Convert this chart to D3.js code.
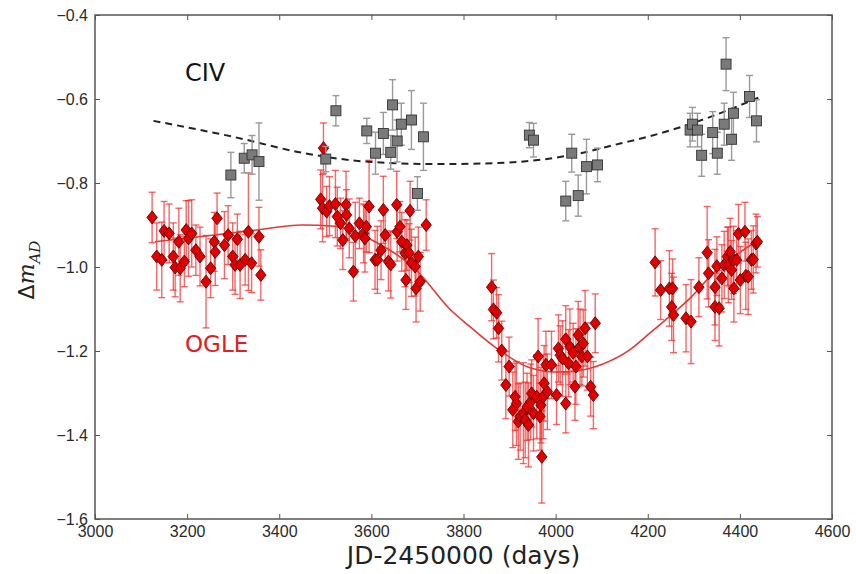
<!DOCTYPE html>
<html>
<head>
<meta charset="utf-8">
<script src="https://cdn.jsdelivr.net/npm/d3@7"></script>
<style>
  html, body { margin: 0; padding: 0; background: #fff; }
  svg { display: block; font-family: "DejaVu Sans", sans-serif; }
</style>
</head>
<body>
<svg id="chart"></svg>
<script>
// OGLE light curve (JD-2450000, mag, error)
const ogleT = [3124,3134,3145,3150,3161,3170,3174,3182,3185,3194,3198,3203,3210,3219,3228,3241,3251,3259,3261,3265,3281,3289,3299,3304,3309,3315,3326,3333,3340,3356,3360,
  3490,3494,3496,3503,3509,3522,3526,3533,3538,3545,3546,3552,3561,3565,3574,3583,3586,3589,3595,3608,3613,3621,3626,3630,3637,3642,3655,3656,3662,3666,3673,3675,3677,3682,3684,3687,3695,3697,3702,3706,3719,
  3861,3865,3872,3876,3883,3892,3899,3907,3912,3915,3919,3923,3930,3934,3938,3941,3946,3948,3952,3959,3962,3966,3968,3970,3973,3975,3979,3982,3991,4002,4006,4010,4015,4022,4022,4028,4031,4038,4042,4044,4049,4053,4057,4060,4064,4069,4076,4082,4086,
  4216,4228,4247,4252,4254,4256,4283,4294,4311,4329,4332,4346,4346,4350,4355,4361,4366,4373,4375,4379,4382,4386,4387,4393,4397,4401,4411,4413,4418,4425,4429,4435,4438];
const ogleM = [-0.882,-0.975,-0.983,-0.914,-0.920,-0.975,-1.001,-0.940,-1.003,-0.987,-0.912,-0.932,-0.920,-0.960,-0.975,-1.035,-1.003,-0.940,-0.964,-0.884,-0.948,-0.924,-0.975,-0.995,-0.934,-0.995,-0.983,-0.916,-0.991,-0.928,-1.019,
  -0.839,-0.860,-0.717,-0.868,-0.855,-0.850,-0.880,-0.896,-0.936,-0.852,-0.876,-0.908,-1.011,-0.926,-0.896,-0.920,-0.932,-0.904,-0.856,-0.983,-0.983,-0.960,-0.864,-0.924,-0.987,-0.994,-0.852,-0.916,-0.904,-0.940,-0.967,-1.031,-0.948,-0.967,-0.866,-0.990,-0.999,-1.051,-0.975,-1.035,-0.900,
  -1.048,-1.101,-1.109,-1.146,-1.199,-1.281,-1.237,-1.340,-1.309,-1.325,-1.368,-1.356,-1.348,-1.364,-1.333,-1.376,-1.321,-1.301,-1.348,-1.309,-1.213,-1.356,-1.329,-1.452,-1.309,-1.277,-1.233,-1.297,-1.233,-1.305,-1.194,-1.210,-1.218,-1.172,-1.325,-1.229,-1.190,-1.204,-1.285,-1.237,-1.162,-1.190,-1.213,-1.182,-1.146,-1.213,-1.285,-1.305,-1.134,
  -0.989,-1.055,-1.051,-1.095,-1.051,-1.114,-1.122,-1.130,-1.048,-0.966,-1.015,-1.048,-1.095,-0.998,-1.098,-1.027,-0.995,-0.975,-0.995,-0.964,-1.007,-0.983,-1.051,-0.983,-0.921,-1.031,-0.916,-1.021,-1.023,-0.983,-0.982,-0.944,-0.940];
const ogleE = [0.06,0.08,0.09,0.07,0.07,0.08,0.07,0.08,0.08,0.06,0.07,0.09,0.08,0.06,0.07,0.11,0.07,0.07,0.08,0.06,0.08,0.07,0.08,0.07,0.06,0.08,0.06,0.14,0.07,0.07,0.06,
  0.07,0.08,0.06,0.06,0.07,0.08,0.07,0.06,0.07,0.08,0.06,0.07,0.07,0.08,0.06,0.07,0.08,0.06,0.11,0.07,0.08,0.07,0.08,0.06,0.07,0.08,0.08,0.07,0.06,0.07,0.08,0.07,0.06,0.07,0.07,0.08,0.07,0.08,0.07,0.07,0.06,
  0.08,0.07,0.06,0.08,0.07,0.08,0.07,0.09,0.08,0.10,0.09,0.08,0.12,0.09,0.08,0.10,0.09,0.08,0.09,0.10,0.09,0.08,0.09,0.11,0.10,0.09,0.08,0.09,0.08,0.07,0.08,0.07,0.09,0.08,0.07,0.08,0.09,0.07,0.08,0.09,0.08,0.09,0.07,0.08,0.09,0.08,0.07,0.08,0.07,
  0.08,0.07,0.09,0.08,0.07,0.09,0.08,0.10,0.07,0.11,0.08,0.09,0.08,0.07,0.09,0.08,0.08,0.07,0.09,0.08,0.07,0.08,0.08,0.07,0.07,0.08,0.07,0.08,0.09,0.07,0.08,0.07,0.06];

// CIV emission line
const civT = [3295,3324,3341,3356,3501,3523,3590,3609,3626,3642,3646,3656,3665,3687,3700,3713,
  3943,3952,4022,4035,4049,4067,4091,4292,4297,4308,4317,4341,4351,4366,4370,4382,4386,4421,4436];
const civM = [-0.781,-0.741,-0.733,-0.749,-0.743,-0.628,-0.676,-0.729,-0.682,-0.727,-0.614,-0.700,-0.660,-0.650,-0.825,-0.690,
  -0.686,-0.698,-0.843,-0.729,-0.830,-0.761,-0.757,-0.674,-0.660,-0.674,-0.734,-0.680,-0.729,-0.660,-0.517,-0.696,-0.634,-0.594,-0.652];
const civE = [0.054,0.035,0.046,0.092,0.03,0.036,0.03,0.05,0.05,0.04,0.06,0.05,0.05,0.07,0.04,0.08,
  0.03,0.04,0.047,0.045,0.049,0.065,0.04,0.04,0.04,0.04,0.05,0.05,0.05,0.05,0.063,0.05,0.05,0.05,0.05];

// fitted curves
const fitRedT = [3130,3250,3350,3450,3520,3600,3700,3770,3814,3870,3944,4000,4031,4100,4160,4205,4250,4292,4342,4400,4442];
const fitRedM = [-0.94,-0.925,-0.912,-0.900,-0.903,-0.935,-1.010,-1.100,-1.142,-1.192,-1.240,-1.250,-1.249,-1.232,-1.198,-1.157,-1.115,-1.074,-1.015,-0.965,-0.935];
const fitCivT = [3127,3300,3450,3600,3750,3900,4050,4140,4200,4330,4440];
const fitCivM = [-0.652,-0.690,-0.728,-0.750,-0.755,-0.751,-0.730,-0.706,-0.690,-0.645,-0.597];

const xTicks = [3000,3200,3400,3600,3800,4000,4200,4400,4600];
const yTicks = [-0.4,-0.6,-0.8,-1.0,-1.2,-1.4,-1.6];

const W = 856, H = 574;
const L = 95, R = 832, T = 15, B = 519;

const svg = d3.select("#chart").attr("width", W).attr("height", H);

const x = d3.scaleLinear().domain([3000, 4600]).range([L, R]);
const y = d3.scaleLinear().domain([-1.6, -0.4]).range([B, T]);

const tickColor = "#555";
function styleAxis(g) {
  g.select(".domain").remove();
  g.selectAll(".tick line").attr("stroke", tickColor).attr("stroke-width", 1);
  g.selectAll(".tick text").attr("fill", "#2a2a2a").style("font-size", "16px");
}

svg.append("g").attr("transform", `translate(${L},0)`)
  .call(d3.axisLeft(y).tickValues(yTicks).tickFormat(d3.format(".1f")).tickSize(-5).tickPadding(7))
  .call(styleAxis);
svg.append("g").attr("transform", `translate(${R},0)`)
  .call(d3.axisRight(y).tickValues(yTicks).tickFormat("").tickSize(-5))
  .call(styleAxis);
svg.append("g").attr("transform", `translate(0,${B})`)
  .call(d3.axisBottom(x).tickValues(xTicks).tickFormat(d3.format("d")).tickSize(-5).tickPadding(7))
  .call(styleAxis);
svg.append("g").attr("transform", `translate(0,${T})`)
  .call(d3.axisTop(x).tickValues(xTicks).tickFormat("").tickSize(-5))
  .call(styleAxis);

const ogle = ogleT.map((t, i) => ({ t, m: ogleM[i], e: ogleE[i] }));
const civ = civT.map((t, i) => ({ t, m: civM[i], e: civE[i] }));

const line = d3.line().x(d => x(d[0])).y(d => y(d[1])).curve(d3.curveMonotoneX);

function errorBars(g, data) {
  g.selectAll("line.v").data(data).join("line").attr("class", "v")
    .attr("x1", d => x(d.t)).attr("x2", d => x(d.t))
    .attr("y1", d => y(d.m - d.e)).attr("y2", d => y(d.m + d.e));
  g.selectAll("line.c1").data(data).join("line").attr("class", "c1")
    .attr("x1", d => x(d.t) - 3.5).attr("x2", d => x(d.t) + 3.5)
    .attr("y1", d => y(d.m - d.e)).attr("y2", d => y(d.m - d.e));
  g.selectAll("line.c2").data(data).join("line").attr("class", "c2")
    .attr("x1", d => x(d.t) - 3.5).attr("x2", d => x(d.t) + 3.5)
    .attr("y1", d => y(d.m + d.e)).attr("y2", d => y(d.m + d.e));
}

// OGLE
errorBars(svg.append("g").attr("stroke", "#ee2a2a").attr("stroke-opacity", 0.7).attr("stroke-width", 1.4), ogle);

svg.append("path")
  .datum(fitRedT.map((t, i) => [t, fitRedM[i]]))
  .attr("d", line)
  .attr("fill", "none").attr("stroke", "#e03a3a").attr("stroke-width", 1.6);

svg.append("g").selectAll("path").data(ogle).join("path")
  .attr("d", "M0,-6.5L5.2,0L0,6.5L-5.2,0Z")
  .attr("transform", d => `translate(${x(d.t)},${y(d.m)})`)
  .attr("fill", "#e00000").attr("stroke", "#600000").attr("stroke-width", 0.9);

// CIV
svg.append("path")
  .datum(fitCivT.map((t, i) => [t, fitCivM[i]]))
  .attr("d", line)
  .attr("fill", "none").attr("stroke", "#222").attr("stroke-width", 2)
  .attr("stroke-dasharray", "7,5");

errorBars(svg.append("g").attr("stroke", "#999").attr("stroke-width", 1.4), civ);

svg.append("g").selectAll("rect").data(civ).join("rect")
  .attr("x", d => x(d.t) - 5).attr("y", d => y(d.m) - 5)
  .attr("width", 10).attr("height", 10)
  .attr("fill", "#7a7a7a").attr("stroke", "#333").attr("stroke-width", 0.9);

// frame
svg.append("rect").attr("x", L).attr("y", T).attr("width", R - L).attr("height", B - T)
  .attr("fill", "none").attr("stroke", "#555").attr("stroke-width", 1.5);

// labels
svg.append("text").attr("x", 185).attr("y", 81).text("CIV")
  .style("font-size", "24px").attr("fill", "#111");
svg.append("text").attr("x", 185).attr("y", 352).text("OGLE")
  .style("font-size", "23px").attr("fill", "#e02020");

svg.append("text").attr("x", (L + R) / 2).attr("y", 564).attr("text-anchor", "middle")
  .text("JD-2450000 (days)").style("font-size", "25px").attr("fill", "#222");

const yl = svg.append("text").attr("transform", "translate(34,270) rotate(-90)")
  .attr("text-anchor", "middle").style("font-size", "22px").attr("fill", "#222");
yl.append("tspan").text("Δ");
yl.append("tspan").text("m").style("font-style", "italic").style("font-family", "DejaVu Serif, serif");
yl.append("tspan").text("AD").attr("dy", 6).style("font-size", "15px").style("font-style", "italic").style("font-family", "DejaVu Serif, serif");
</script>
</body>
</html>
